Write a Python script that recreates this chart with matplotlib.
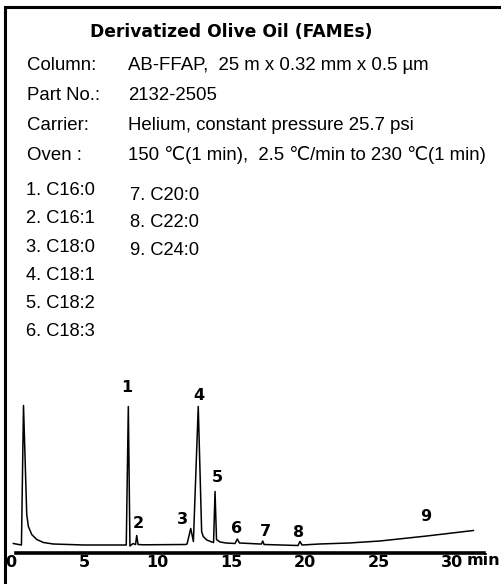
import matplotlib.pyplot as plt
from matplotlib.patches import Rectangle

# chromatogram trace: time (min), detector signal (a.u.)
trace_t = [0.2, 0.75, 0.89, 1.11, 1.22, 1.45, 1.79, 2.24, 2.91, 5.0, 7.6,
           7.87, 8.01, 8.12, 8.33, 8.5, 8.58, 8.67, 9.0, 11.9,
           12.0, 12.25, 12.43, 12.76, 12.99, 13.1, 13.34, 13.68,
           13.8, 13.9, 14.0, 14.24, 14.65,
           15.26, 15.41, 15.56, 16.95, 17.05, 17.14, 17.23,
           19.54, 19.67, 19.81, 21.0, 23.0, 25.1, 28.28, 31.45]
trace_s = [1, -0.5, 139, 30, 18, 10, 5, 2, 0.5, -0.5, -0.5,
           -0.5, 138, -1.5, 1, 0, 9, 0, -0.3, 0,
           0.5, 16, 3, 138, 13, 8, 4.5, 2.5,
           2, 53, 5, 2.5, 1.5,
           1, 5.5, 1.5, 0.5, 0.5, 3.5, 0,
           -1, 3, -0.5, 0.5, 1.5, 3.5, 8.5, 14]

# peak numbers and where they sit (time, signal)
peak_ids = ['1', '2', '3', '4', '5', '6', '7', '8', '9']
label_t = [7.92, 8.67, 11.7, 12.79, 14.06, 15.33, 17.34, 19.6, 28.21]
label_s = [156.5, 20.5, 25.5, 149.5, 66.8, 16.2, 12.8, 12.2, 27.8]

peak_names = ['C16:0', 'C16:1', 'C18:0', 'C18:1', 'C18:2', 'C18:3',
              'C20:0', 'C22:0', 'C24:0']

info_keys = ['Column:', 'Part No.:', 'Carrier:', 'Oven :']
info_vals = ['AB-FFAP,  25 m x 0.32 mm x 0.5 µm',
             '2132-2505',
             'Helium, constant pressure 25.7 psi',
             '150 \u2103(1 min),  2.5 \u2103/min to 230 \u2103(1 min)']

xticks = [0, 5, 10, 15, 20, 25, 30]

W, H = 502, 584
fig = plt.figure(figsize=(W / 100, H / 100), dpi=100)

txt_font = ['Liberation Sans', 'DejaVu Sans']

# frame (top and left edges only show)
fig.patches.append(Rectangle((5 / W, -0.1), 1.2, 1 - 7 / H + 0.1,
                             transform=fig.transFigure, fill=False,
                             lw=2.2, ec='black'))

fig.text(231.7 / W, 1 - 31.7 / H, 'Derivatized Olive Oil (FAMEs)',
         family='DejaVu Sans', weight='bold', fontsize=12.3,
         ha='center', va='center')

for i in range(len(info_keys)):
    y = 1 - (66 + 29.7 * i) / H
    fig.text(26.7 / W, y, info_keys[i], family=txt_font, fontsize=13.4,
             ha='left', va='center')
    fig.text(128 / W, y, info_vals[i], family=txt_font, fontsize=13.4,
             ha='left', va='center')

for i in range(len(peak_names)):
    if i < 6:
        x, y = 26, 190.7 + 28.2 * i
    else:
        x, y = 130, 195 + 27.8 * (i - 6)
    fig.text(x / W, 1 - y / H, f'{peak_ids[i]}. {peak_names[i]}',
             family=txt_font, fontsize=13.2, ha='left', va='center')

# chromatogram axes
ax = fig.add_axes([10.4 / W, (H - 553) / H, (484 - 10.4) / W, 158 / H])
ax.plot(trace_t, trace_s, color='black', lw=1.1)
ax.set_xlim(0, 32.17)
ax.set_ylim(-8.5, 149.5)
ax.patch.set_visible(False)
for side in ['top', 'right', 'left']:
    ax.spines[side].set_visible(False)
ax.spines['bottom'].set_linewidth(2.6)
ax.spines['bottom'].set_bounds(0.38, 32.17)
ax.set_yticks([])
ax.set_xticks(xticks)
ax.set_xticklabels([str(v) for v in xticks], family='DejaVu Sans',
                   weight='bold', fontsize=11.5)
ax.tick_params(axis='x', length=0, pad=1.5)
ax.text(31.0, -8.5, 'min', family='DejaVu Sans', weight='bold',
        fontsize=11.5, ha='left', va='top')

for i in range(len(peak_ids)):
    ax.text(label_t[i], label_s[i], peak_ids[i], family='DejaVu Sans',
            weight='bold', fontsize=11.5, ha='center', va='center')

fig.savefig('out.png', dpi=100)
